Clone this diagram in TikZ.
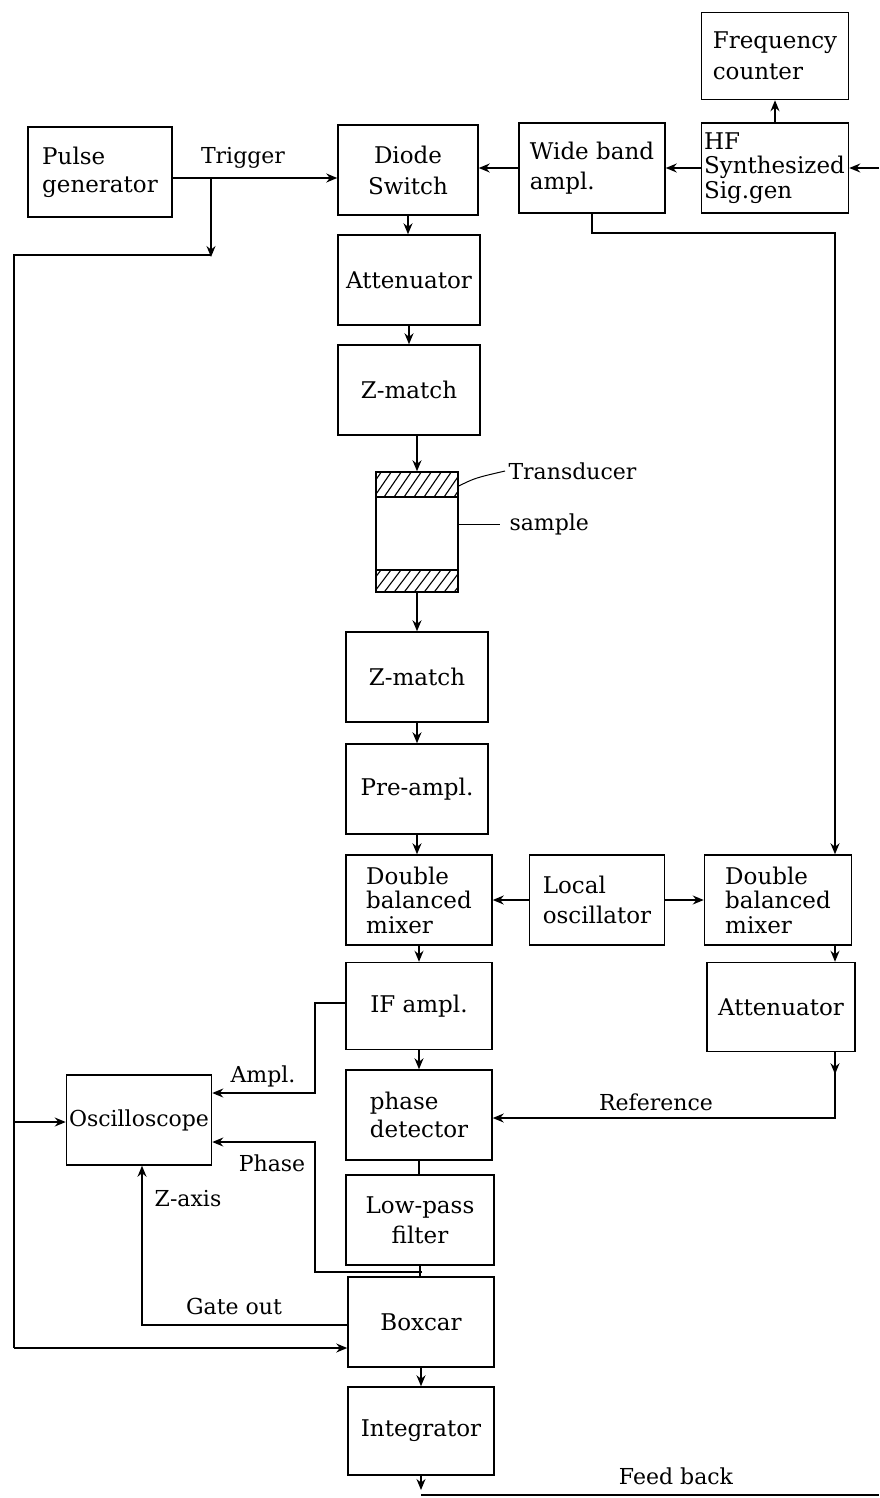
\documentclass[tikz,border=0pt]{standalone}
\usepackage{fontspec}
\setmainfont{DejaVu Serif}
\usetikzlibrary{arrows.meta}
\begin{document}
\begin{tikzpicture}[x=1pt,y=-1pt,
  box/.style={draw, line width=1.5pt, inner sep=2pt, font=\fontsize{23}{28}\selectfont, align=center},
  tight/.style={font=\fontsize{23}{24.5}\selectfont},
  conn/.style={line width=1.3pt},
  arr/.style={conn,-{Stealth[length=11pt,width=9pt]}},
  lbl/.style={font=\fontsize{22}{26}\selectfont}]
\useasboundingbox (0,0) rectangle (879,1498);
% boxes
\node[box, minimum width=144pt, minimum height=90pt, align=left] (pulse) at (100,172) {Pulse\\generator};
\node[box, minimum width=140pt, minimum height=90pt, font=\fontsize{23}{31}\selectfont] (diode) at (408,170) {Diode\\Switch};
\node[box, minimum width=146pt, minimum height=90pt, align=left, font=\fontsize{23}{30}\selectfont] (wide) at (592,168) {Wide band\\ampl.};
\node[box, minimum width=147pt, minimum height=90pt, text width=142pt, align=left, tight] (hf) at (775,168) {HF\\Synthesized\\Sig.gen};
\node[box, minimum width=147pt, minimum height=87pt, align=left, font=\fontsize{23}{31}\selectfont] (freq) at (775,56) {Frequency\\counter};
\node[box, minimum width=142pt, minimum height=90pt] (att1) at (409,280) {Attenuator};
\node[box, minimum width=142pt, minimum height=90pt] (zm1) at (409,390) {Z-match};
\node[draw, line width=1.5pt, minimum width=82pt, minimum height=120pt, inner sep=0pt] (tr) at (417,532) {};
\node[box, minimum width=142pt, minimum height=90pt] (zm2) at (417,677) {Z-match};
\node[box, minimum width=142pt, minimum height=90pt] (pre) at (417,789) {Pre-ampl.};
\node[box, minimum width=146pt, minimum height=90pt, align=left, tight] (dbml) at (419,900) {Double\\balanced\\mixer};
\node[box, minimum width=135pt, minimum height=90pt, align=left, font=\fontsize{23}{30}\selectfont] (lo) at (597,900) {Local\\oscillator};
\node[box, minimum width=147pt, minimum height=90pt, align=left, tight] (dbmr) at (778,900) {Double\\balanced\\mixer};
\node[box, minimum width=146pt, minimum height=87pt] (ifa) at (419,1006) {IF ampl.};
\node[box, minimum width=148pt, minimum height=89pt] (att2) at (781,1007) {Attenuator};
\node[box, minimum width=146pt, minimum height=90pt, align=left] (pd) at (419,1115) {phase\\detector};
\node[box, minimum width=145pt, minimum height=90pt, inner sep=1pt, font=\fontsize{22}{26}\selectfont] (osc) at (139,1120) {Oscilloscope};
\node[box, minimum width=148pt, minimum height=90pt, font=\fontsize{23}{30}\selectfont] (lpf) at (420,1220) {Low-pass\\filter};
\node[box, minimum width=146pt, minimum height=90pt] (boxcar) at (421,1322) {Boxcar};
\node[box, minimum width=146pt, minimum height=88pt] (integ) at (421,1431) {Integrator};
% transducer hatching
\begin{scope}
\clip (376,472) rectangle (458,497);
\foreach \i in {0,...,10} \draw[line width=1.1pt] (362+\i*10,500) -- (384+\i*10,468);
\end{scope}
\begin{scope}
\clip (376,570) rectangle (458,592);
\foreach \i in {0,...,10} \draw[line width=1.1pt] (362+\i*10,595) -- (384+\i*10,566);
\end{scope}
\draw[line width=1.4pt] (376,497) -- (458,497) (376,570) -- (458,570);
\coordinate (trl) at (505,471);
\coordinate (sml) at (500,524);
\draw[line width=1pt] (tr.east |- 0,486) .. controls (475,478) .. (trl);
\draw[line width=1pt] (tr.east |- sml) -- (sml);
\node[lbl, anchor=west] (trt) at (trl) {Transducer};
\node[lbl, anchor=west] (smt) at ([xshift=6pt]sml) {sample};
% coordinates
\coordinate (trig) at (211,178);
\coordinate (tl1) at (211,255);
\coordinate (tl2) at (14,255);
\coordinate (tl3) at (14,1122);
\coordinate (tl4) at (14,1348);
\coordinate (in) at (879,168);
\coordinate (wr) at (835,233);
\coordinate (ref) at (835,1118);
\coordinate (amp1) at (315,1003);
\coordinate (amp2) at (315,1093);
\coordinate (ph1) at (422,1272);
\coordinate (ph2) at (315,1272);
\coordinate (ph3) at (315,1142);
\coordinate (g1) at (142,1325);
\coordinate (fb1) at (422,1495);
\coordinate (fb2) at (879,1495);
% connectors
\draw[arr] (pulse.east |- trig) -- (diode.west |- trig);
\draw[arr] (trig) -- ([yshift=-2pt]tl1);
\draw[conn] (tl1) -- (tl2) -- (tl4);
\draw[arr] (tl3) -- (osc.west |- tl3);
\draw[arr] (tl4) -- (boxcar.west |- tl4);
\draw[arr] (wide.west) -- (wide.west -| diode.east);
\draw[arr] (hf.west) -- (hf.west -| wide.east);
\draw[arr] (in) -- (hf.east);
\draw[arr] (hf.north) -- (freq.south);
\draw[arr] (wide.south) |- (wr) -- (wr |- dbmr.north);
\draw[arr] (diode.south) -- (diode.south |- att1.north);
\draw[arr] (att1.south) -- (att1.south |- zm1.north);
\draw[arr] (tr.north |- zm1.south) -- (tr.north);
\draw[arr] (tr.south) -- (tr.south |- zm2.north);
\draw[arr] (zm2.south) -- (zm2.south |- pre.north);
\draw[arr] (pre.south) -- (pre.south |- dbml.north);
\draw[arr] (lo.west) -- (dbml.east);
\draw[arr] (lo.east) -- (dbmr.west);
\draw[arr] (dbml.south) -- (dbml.south |- ifa.north);
\draw[arr] (wr |- dbmr.south) -- (wr |- att2.north);
\draw[arr] (ifa.south) -- (ifa.south |- pd.north);
\draw[arr] (wr |- att2.south) -- ++(0,22);
\draw[arr] (wr |- att2.south) -- (ref) -- (pd.east |- ref);
\draw[arr] (ifa.west |- amp1) -- (amp1) -- (amp2) -- (osc.east |- amp2);
\draw[conn] (pd.south) -- (pd.south |- lpf.north);
\draw[conn] (lpf.south) -- (lpf.south |- boxcar.north);
\draw[arr] (ph1) -- (ph2) -- (ph3) -- (osc.east |- ph3);
\draw[arr] (boxcar.west |- g1) -- (g1) -- (osc.south -| g1);
\draw[arr] (boxcar.south) -- (boxcar.south |- integ.north);
\draw[arr] (integ.south) -- (integ.south |- 0,1490);
\draw[conn] (integ.south |- fb1) -- (fb1) -- (fb2);
% labels
\node[lbl] (ltrig) at (243,158) {Trigger};
\node[lbl] (lref) at (656,1102) {Reference};
\node[lbl] (lampl) at (263,1076) {Ampl.};
\node[lbl] (lphase) at (272,1163) {Phase};
\node[lbl] (lz) at (188,1199) {Z-axis};
\node[lbl] (lgate) at (234,1306) {Gate out};
\node[lbl] (lfb) at (676,1476) {Feed back};
\end{tikzpicture}
\end{document}
